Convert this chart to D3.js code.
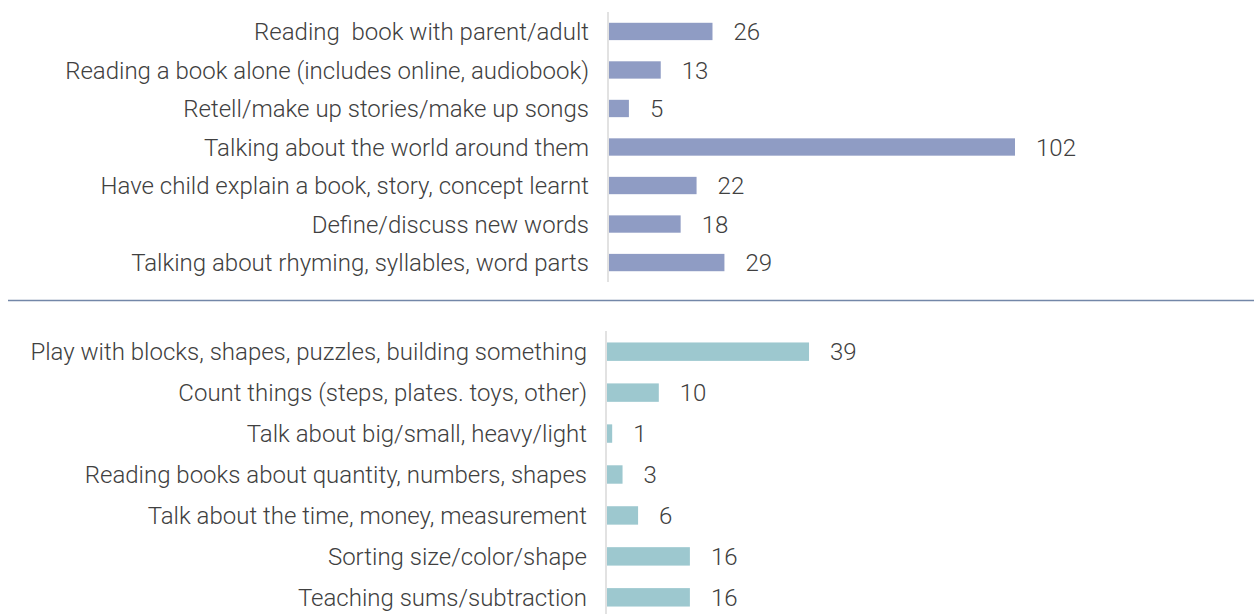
<!DOCTYPE html>
<html>
  <head>
    <meta charset="utf-8" />
    <style>
    body { margin: 0; background: #fff; }
    text { font-family: Roboto, sans-serif; font-weight: 300; fill: #404040; white-space: pre; }
    </style>
  </head>
  <body>
    <div id="chart"></div>
    <script src="https://d3js.org/d3.v7.min.js"></script>
    <script>

// literacy activities (top panel)
var litLabels = [
  "Reading  book with parent/adult",
  "Reading a book alone (includes online, audiobook)",
  "Retell/make up stories/make up songs",
  "Talking about the world around them",
  "Have child explain a book, story, concept learnt",
  "Define/discuss new words",
  "Talking about rhyming, syllables, word parts"
];
var litValues = [26, 13, 5, 102, 22, 18, 29];

// numeracy activities (bottom panel)
var numLabels = [
  "Play with blocks, shapes, puzzles, building something",
  "Count things (steps, plates. toys, other)",
  "Talk about big/small, heavy/light",
  "Reading books about quantity, numbers, shapes",
  "Talk about the time, money, measurement",
  "Sorting size/color/shape",
  "Teaching sums/subtraction"
];
var numValues = [39, 10, 1, 3, 6, 16, 16];

var width = 1254, height = 614;

var svg = d3.select("#chart").append("svg")
    .attr("width", width)
    .attr("height", height);

function panel(labels, values, opts) {
  var g = svg.append("g");

  var y = d3.scaleBand()
      .domain(labels)
      .range([opts.top, opts.bottom])
      .paddingInner(0.55)
      .paddingOuter(0.28);

  var x = d3.scaleLinear()
      .domain([0, opts.max])
      .range([opts.x0, opts.x1]);

  // axis line
  g.append("line")
    .attr("x1", opts.x0 - 1).attr("x2", opts.x0 - 1)
    .attr("y1", opts.top).attr("y2", opts.bottom)
    .style("stroke", "#d9d9d9")
    .style("stroke-width", 1.5);

  g.selectAll(".bar")
    .data(values)
    .enter().append("rect")
      .attr("class", "bar")
      .attr("x", x(0))
      .attr("y", function(d, i){ return y(labels[i]); })
      .attr("width", function(d){ return x(d) - x(0); })
      .attr("height", y.bandwidth())
      .style("fill", opts.colour);

  g.selectAll(".cat")
    .data(labels)
    .enter().append("text")
      .attr("class", "cat")
      .attr("x", opts.x0 - 20)
      .attr("y", function(d){ return y(d) + y.bandwidth() / 2; })
      .attr("dy", "0.36em")
      .attr("text-anchor", "end")
      .style("font-size", "24px")
      .text(function(d){ return d; });

  g.selectAll(".val")
    .data(values)
    .enter().append("text")
      .attr("class", "val")
      .attr("x", function(d){ return x(d) + 21; })
      .attr("y", function(d, i){ return y(labels[i]) + y.bandwidth() / 2; })
      .attr("dy", "0.36em")
      .style("font-size", "24px")
      .text(function(d){ return d; });
}

panel(litLabels, litValues, {
  top: 12, bottom: 282, x0: 609, x1: 1015, max: 102, colour: "#8f9cc4"
});

panel(numLabels, numValues, {
  top: 331, bottom: 618, x0: 607, x1: 808, max: 38.8, colour: "#9dc8cf"
});

// separator between panels
svg.append("line")
  .attr("x1", 8).attr("x2", width)
  .attr("y1", 300.5).attr("y2", 300.5)
  .style("stroke", "#7387a8")
  .style("stroke-width", 1.3);

    </script>
  </body>
</html>
